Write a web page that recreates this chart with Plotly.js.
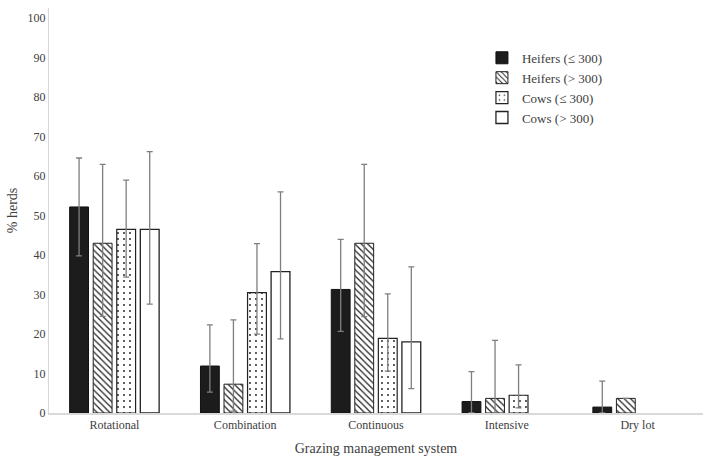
<!DOCTYPE html>
<html>
<head>
<meta charset="utf-8">
<script src="https://cdn.plot.ly/plotly-3.0.1.min.js"></script>
<style>html,body{margin:0;padding:0;background:#fff;}#chart{width:711px;height:461px;}</style>
</head>
<body>
<div id="chart"></div>
<script>
const categories = ["Rotational", "Combination", "Continuous", "Intensive", "Dry lot"];
const seriesNames = ["Heifers (≤ 300)", "Heifers (> 300)", "Cows (≤ 300)", "Cows (> 300)"];

const heifersLow = [52.2, 11.9, 31.3, 2.9, 1.5];
const heifersLowUpper = [64.6, 22.3, 44.0, 10.5, 8.1];
const heifersLowLower = [39.8, 5.3, 20.7, 0, 0];

const heifersHigh = [43.0, 7.3, 43.0, 3.7, 3.7];
const heifersHighUpper = [63.0, 23.6, 63.0, 18.4, null];
const heifersHighLower = [24.5, 0.5, 24.4, 0, null];

const cowsLow = [46.5, 30.5, 18.9, 4.5, null];
const cowsLowUpper = [59.0, 42.9, 30.2, 12.2, null];
const cowsLowLower = [34.4, 20.0, 10.6, 1.3, null];

const cowsHigh = [46.5, 35.8, 18.0, null, null];
const cowsHighUpper = [66.2, 56.0, 37.0, null, null];
const cowsHighLower = [27.6, 18.8, 6.2, null, null];

const yTicks = [0, 10, 20, 30, 40, 50, 60, 70, 80, 90, 100];

function plus(v, up) { return v.map((x, i) => (x == null || up[i] == null) ? null : up[i] - x); }
function minus(v, lo) { return v.map((x, i) => (x == null || lo[i] == null) ? null : x - lo[i]); }

const errStyle = {color: "#7f7f7f", thickness: 1.3, width: 3};
function errs(v, up, lo) {
  return Object.assign({type: "data", symmetric: false, array: plus(v, up), arrayminus: minus(v, lo), visible: true}, errStyle);
}

const serif = "Liberation Serif, Times New Roman, serif";

const traces = [
  {type: "bar", name: seriesNames[0], x: categories, y: heifersLow,
   marker: {color: "#1c1c1c", line: {color: "#111", width: 1}},
   error_y: errs(heifersLow, heifersLowUpper, heifersLowLower)},
  {type: "bar", name: seriesNames[1], x: categories, y: heifersHigh,
   marker: {color: "#ffffff", line: {color: "#222", width: 1},
            pattern: {shape: "\\", fgcolor: "#222", bgcolor: "#ffffff", size: 4.5, solidity: 0.28}},
   error_y: errs(heifersHigh, heifersHighUpper, heifersHighLower)},
  {type: "bar", name: seriesNames[2], x: categories, y: cowsLow,
   marker: {color: "#ffffff", line: {color: "#222", width: 1.2},
            pattern: {shape: ".", fgcolor: "#222", bgcolor: "#ffffff", size: 6, solidity: 0.08}},
   error_y: errs(cowsLow, cowsLowUpper, cowsLowLower)},
  {type: "bar", name: seriesNames[3], x: categories, y: cowsHigh,
   marker: {color: "#ffffff", line: {color: "#222", width: 1.3}},
   error_y: errs(cowsHigh, cowsHighUpper, cowsHighLower)}
];

const layout = {
  width: 711, height: 461,
  margin: {l: 49, r: 8, t: 8, b: 48},
  paper_bgcolor: "#ffffff", plot_bgcolor: "#ffffff",
  barmode: "group", bargap: 0.28, bargroupgap: 0.2,
  font: {family: serif, size: 12, color: "#404040"},
  showlegend: true,
  legend: {x: 0.662, y: 0.914, xanchor: "left", yanchor: "top",
           font: {family: serif, size: 13, color: "#404040"},
           bgcolor: "rgba(0,0,0,0)", tracegroupgap: 0, itemwidth: 30},
  xaxis: {
    showline: true, linecolor: "#d9d9d9", linewidth: 1.5,
    ticks: "", showgrid: false, zeroline: false,
    tickfont: {family: serif, size: 12, color: "#404040"},
    title: {text: "Grazing management system", font: {family: serif, size: 14, color: "#404040"}, standoff: 12}
  },
  yaxis: {
    range: [0, 102.6], showline: true, linecolor: "#d9d9d9", linewidth: 1,
    ticks: "", showgrid: false, zeroline: false,
    tickvals: yTicks, ticktext: yTicks.map(String),
    tickfont: {family: serif, size: 12, color: "#404040"},
    title: {text: "% herds", font: {family: serif, size: 14, color: "#404040"}, standoff: 6}
  }
};

Plotly.newPlot("chart", traces, layout, {displayModeBar: false, staticPlot: true});
</script>
</body>
</html>
